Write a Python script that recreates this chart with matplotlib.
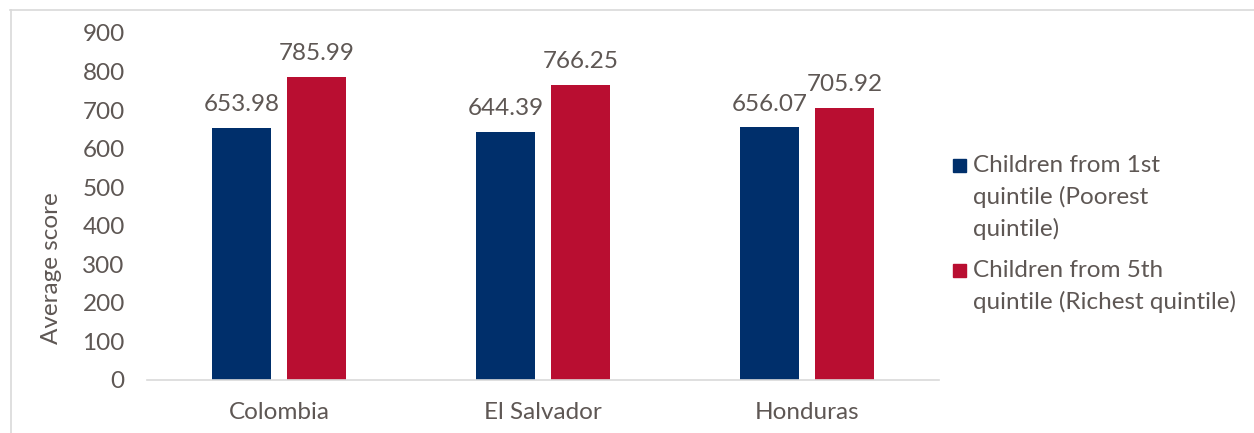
import numpy as np
import matplotlib.pyplot as plt
from matplotlib.lines import Line2D
from matplotlib.patches import Rectangle

countries = ["Colombia", "El Salvador", "Honduras"]
poorest = [653.98, 644.39, 656.07]
richest = [785.99, 766.25, 705.92]
series_names = ["Children from 1st\nquintile (Poorest\nquintile)",
                "Children from 5th\nquintile (Richest quintile)"]
yticks = [0, 100, 200, 300, 400, 500, 600, 700, 800, 900]

blue = "#002f6b"
red = "#b90e31"
txt = "#5e5754"
fs = 17.5

W, H = 1254, 433
plt.rcParams['font.family'] = ['Lato', 'DejaVu Sans']

fig = plt.figure(figsize=(W / 100, H / 100), dpi=100)
ax = fig.add_axes([147 / W, 53 / H, 792 / W, 347 / H])

x = np.arange(len(countries))
w = 0.223
off = 0.142
b1 = ax.bar(x - off, poorest, w, color=blue)
b2 = ax.bar(x + off, richest, w, color=red)

for bars, vals in ((b1, poorest), (b2, richest)):
    for b, v in zip(bars, vals):
        ax.annotate(f"{v:.2f}", (b.get_x() + b.get_width() / 2, v),
                    xytext=(0, 9), textcoords="offset points",
                    ha="center", va="bottom", fontsize=fs, color=txt)

ax.set_xlim(-0.5, 2.5)
ax.set_ylim(0, 900)
ax.set_yticks(yticks)
ax.set_xticks(x)
ax.set_xticklabels(countries)
ax.tick_params(axis="both", length=0, labelsize=fs, labelcolor=txt)
ax.tick_params(axis="x", pad=16)
ax.tick_params(axis="y", pad=16)
ax.set_ylabel("Average score", fontsize=fs, color=txt)
ax.yaxis.set_label_coords(-85 / 792, 0.323)

for s in ("top", "right", "left"):
    ax.spines[s].set_visible(False)
ax.spines["bottom"].set_color("#d9d9d9")
ax.spines["bottom"].set_linewidth(1.2)

# legend drawn by hand so the square sits next to the first line
for name, col, ytop in zip(series_names, (blue, red), (159, 264)):
    fig.add_artist(Rectangle((953 / W, 1 - (ytop + 13) / H), 13 / W, 13 / H,
                             color=col, transform=fig.transFigure))
    fig.text(973 / W, 1 - (ytop - 4) / H, name, fontsize=fs, color=txt,
             va="top", ha="left", linespacing=1.55)

# outer chart frame (top and left edges)
fig.add_artist(Line2D([10 / W, 1], [1 - 10 / H, 1 - 10 / H],
                      color="#d9d9d9", lw=1.2, transform=fig.transFigure))
fig.add_artist(Line2D([11 / W, 11 / W], [0, 1 - 10 / H],
                      color="#d9d9d9", lw=1.2, transform=fig.transFigure))

fig.savefig("out.png", dpi=100)
